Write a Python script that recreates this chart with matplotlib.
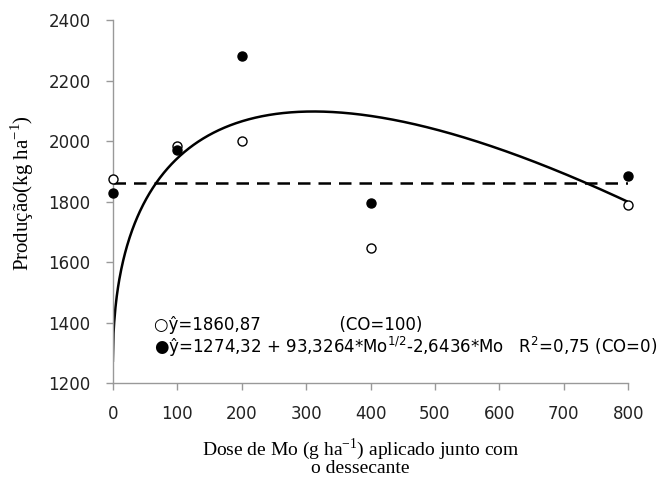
import numpy as np
import matplotlib.pyplot as plt

# doses de Mo (g ha-1)
doses = [0, 100, 200, 400, 800]
# producao (kg ha-1)
prod_co100 = [1875, 1985, 2000, 1648, 1790]
prod_co0 = [1830, 1970, 2280, 1795, 1886]

# ajustes
media_co100 = 1860.87
b0, b1, b2 = 1274.32, 93.3264, 2.6436

x_ticks = [0, 100, 200, 300, 400, 500, 600, 700, 800]
y_ticks = [1200, 1400, 1600, 1800, 2000, 2200, 2400]

plt.rcParams['mathtext.fontset'] = 'dejavusans'

fig = plt.figure(figsize=(6.64, 4.79), dpi=100)
ax = fig.add_axes([0.170, 0.200, 0.776, 0.758])

# curva ajustada (CO=0)
xc = np.linspace(0, 800, 800)
yc = b0 + b1 * np.sqrt(xc) - b2 * xc
ax.plot(xc, yc, color='black', lw=1.8, zorder=2)

# media (CO=100)
ax.plot([0, 800], [media_co100, media_co100], color='black', lw=1.8,
        dashes=(5, 3.2), zorder=2)

ax.plot(doses, prod_co100, 'o', ms=6.5, mfc='white', mec='black', mew=1.0,
        clip_on=False, zorder=3)
ax.plot(doses, prod_co0, 'o', ms=6.5, mfc='black', mec='black',
        clip_on=False, zorder=3)

ax.set_xlim(0, 800)
ax.set_ylim(1200, 2400)
ax.set_xticks(x_ticks)
ax.set_yticks(y_ticks)

for s in ['top', 'right']:
    ax.spines[s].set_visible(False)
for s in ['left', 'bottom']:
    ax.spines[s].set_color('#999999')
    ax.spines[s].set_linewidth(1.0)
ax.tick_params(direction='out', length=5, width=1.0, color='#999999',
               labelsize=12, pad=11, labelcolor='#222222')

fig.text(0.033, 0.597, 'Produção(kg ha$^{\\mathregular{-1}}$)', family='Liberation Serif',
         fontsize=15, rotation=90, ha='center', va='center')
fig.text(0.543, 0.090, 'Dose de Mo (g ha$^{\\mathregular{-1}}$) aplicado junto com\no dessecante',
         family='Liberation Serif', fontsize=14, ha='center', va='top',
         linespacing=0.85)

ax.text(0.080, 0.160, '○ŷ=1860,87               (CO=100)', transform=ax.transAxes,
        fontsize=12, ha='left', va='center')
ax.text(0.080, 0.100,
        '●ŷ=1274,32 + 93,3264*Mo$^{1/2}$-2,6436*Mo   R$^{2}$=0,75 (CO=0)',
        transform=ax.transAxes, fontsize=12, ha='left', va='center')

fig.savefig('out.png', dpi=100)
